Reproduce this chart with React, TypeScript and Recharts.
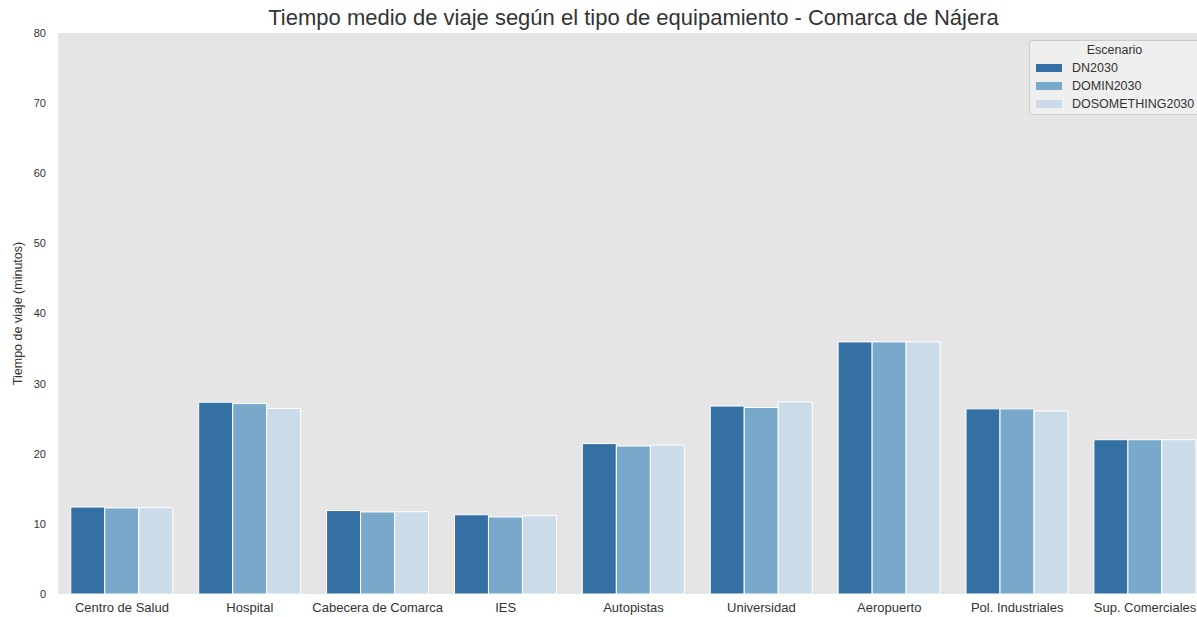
import React from "react";
import { Bar, BarChart, CartesianGrid, Legend, XAxis, YAxis } from "recharts";

const categorias = [
  "Centro de Salud",
  "Hospital",
  "Cabecera de Comarca",
  "IES",
  "Autopistas",
  "Universidad",
  "Aeropuerto",
  "Pol. Industriales",
  "Sup. Comerciales",
];
const dn2030 = [12.4, 27.35, 11.9, 11.3, 21.45, 26.8, 35.95, 26.4, 22.0];
const domin2030 = [12.27, 27.15, 11.7, 10.98, 21.1, 26.6, 35.95, 26.4, 22.0];
const dosomething2030 = [12.3, 26.45, 11.74, 11.17, 21.25, 27.4, 35.95, 26.1, 22.0];
const yTicks = [0, 10, 20, 30, 40, 50, 60, 70, 80];

const series = [
  { key: "DN2030", color: "#3470a3" },
  { key: "DOMIN2030", color: "#79a9ca" },
  { key: "DOSOMETHING2030", color: "#cbdbea" },
];

const data = categorias.map((name, i) => ({
  name,
  DN2030: dn2030[i],
  DOMIN2030: domin2030[i],
  DOSOMETHING2030: dosomething2030[i],
}));

const font = '"Liberation Sans", Arial, sans-serif';

// plot runs a little past the right edge of the picture, like the original
const chartW = 1209;

const LegendBox = () => (
  <div
    style={{
      background: "#efefef",
      border: "1px solid #cccccc",
      borderRadius: 3,
      boxSizing: "border-box",
      height: 75,
      padding: "1px 0 0 6px",
      fontFamily: font,
      fontSize: 12.5,
      color: "#333",
    }}
  >
    <div style={{ textAlign: "center", height: 17, lineHeight: "17px", paddingRight: 6 }}>Escenario</div>
    {series.map((s) => (
      <div key={s.key} style={{ display: "flex", alignItems: "center", height: 18 }}>
        <span style={{ display: "inline-block", width: 26, height: 8, background: s.color, marginRight: 10 }} />
        {s.key}
      </div>
    ))}
  </div>
);

export default function App() {
  return (
    <div
      style={{
        position: "absolute",
        left: 0,
        top: 0,
        width: 1197,
        height: 617,
        overflow: "hidden",
        background: "#fff",
      }}
    >
      <div
        style={{
          position: "absolute",
          top: 5,
          left: 58,
          width: 1151,
          textAlign: "center",
          fontFamily: font,
          fontSize: 22,
          color: "#333",
          zIndex: 2,
        }}
      >
        Tiempo medio de viaje según el tipo de equipamiento - Comarca de Nájera
      </div>
      <BarChart
        width={chartW}
        height={617}
        data={data}
        margin={{ top: 33, right: 0, left: 0, bottom: 0 }}
        barCategoryGap="10%"
        barGap={0}
      >
        <rect x={58} y={33} width={chartW - 58} height={561} fill="#e5e5e5" />
        <CartesianGrid vertical={false} stroke="#ffffff" strokeWidth={1} />
        <XAxis
          dataKey="name"
          height={23}
          tickLine={false}
          axisLine={false}
          tick={{ fill: "#333", fontSize: 13, fontFamily: font }}
          tickMargin={3}
          interval={0}
        />
        <YAxis
          width={58}
          domain={[0, 80]}
          ticks={yTicks}
          tickLine={false}
          axisLine={false}
          tick={{ fill: "#333", fontSize: 11, fontFamily: font }}
          tickMargin={6}
          label={{
            content: ({ viewBox }: any) => {
              const cy = viewBox.y + viewBox.height / 2;
              return (
                <text
                  x={22}
                  y={cy}
                  transform={`rotate(-90 22 ${cy})`}
                  textAnchor="middle"
                  fill="#333"
                  fontSize={12.5}
                  fontFamily={font}
                >
                  Tiempo de viaje (minutos)
                </text>
              );
            },
          }}
        />
        <Legend
          layout="horizontal"
          verticalAlign="middle"
          align="center"
          content={() => <LegendBox />}
          wrapperStyle={{ top: 40, left: 1029, width: 171, height: 75 }}
        />
        {series.map((s) => (
          <Bar
            key={s.key}
            dataKey={s.key}
            fill={s.color}
            stroke="#ffffff"
            strokeWidth={1}
            isAnimationActive={false}
          />
        ))}
      </BarChart>
    </div>
  );
}
